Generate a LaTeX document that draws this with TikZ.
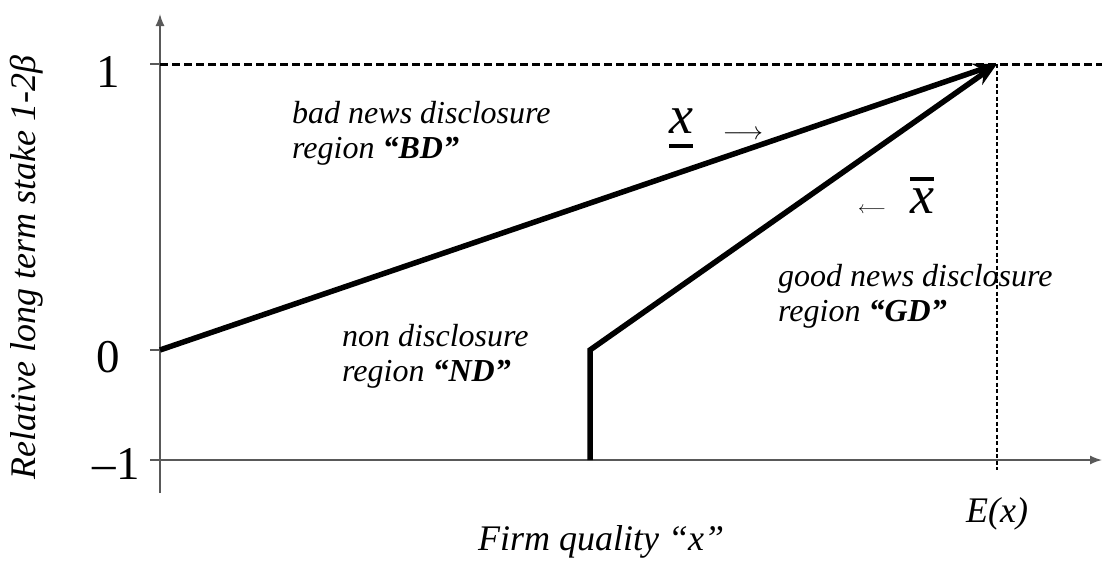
\documentclass[tikz,border=0pt]{standalone}
\usepackage{fontspec}
\setmainfont{Liberation Serif}[
  ItalicFont=Liberation Serif Italic,
  BoldFont=Liberation Serif Bold,
  BoldItalicFont=Liberation Serif Bold Italic]
\usetikzlibrary{arrows.meta}
\newcommand\xlow{\vtop{\hbox{\itshape x}\kern11pt\hrule height 4pt}}
\newcommand\xhigh{\vbox{\hrule height 4pt\kern7pt\hbox{\itshape x}}}
\begin{document}
\begin{tikzpicture}[x=1pt,y=-1pt,
  axis/.style={draw=black!65, line width=1.5pt},
  bound/.style={line width=5.5pt, line join=miter, -{Stealth[length=24pt,width=17pt]}},
  region/.style={inner sep=0, anchor=base west, align=left, font=\fontsize{32}{35}\selectfont\itshape},
  ticklab/.style={inner sep=0, font=\fontsize{47}{47}\selectfont},
  axlab/.style={inner sep=0, font=\fontsize{36}{36}\selectfont\itshape},
  mark x/.style={inner sep=0, anchor=base, font=\fontsize{54}{54}\selectfont}]
\useasboundingbox (0,0) rectangle (1102,582);
% axes
\coordinate (ybot) at (160,493);
\coordinate (ytop) at (160,14);
\coordinate (xleft) at (150,460);
\coordinate (xright) at (1102,460);
\draw[axis, -{Latex[length=12pt,width=9pt]}] (ybot) -- (ytop);
\draw[axis, -{Latex[length=12pt,width=9pt]}] (xleft) -- (xright);
\coordinate (t1) at (150,64);
\coordinate (t0) at (150,350);
\coordinate (y1) at (160,64);
\coordinate (y0) at (160,350);
\draw[axis] (t1) -- (y1);
\draw[axis] (t0) -- (y0);
% E(x) guides
\coordinate (Ex) at (997,64);
\coordinate (Exbot) at (997,470);
\coordinate (right1) at (1102,64);
\draw[line width=3pt, dash pattern=on 8pt off 4pt] (y1) -- (right1);
\draw[line width=2pt, dash pattern=on 4pt off 2.5pt] (Ex) -- (Exbot);
% boundaries
\coordinate (kink) at (590,350);
\coordinate (foot) at (590,460);
\draw[bound] (y0) -- (Ex);
\draw[bound] (foot) -- (kink) -- (Ex);
% tick labels
\node[ticklab] (l1) at (108,72) {1};
\node[ticklab] (l0) at (108,357) {0};
\node[ticklab] (lm1) at (116,464) {–1};
% axis labels
\node[axlab, rotate=90] (ylab) at (27,268) {Relative long term stake 1-2β};
\node[axlab, anchor=base] (xlab) at (601,550) {Firm quality “x”};
\node[axlab] (elab) at (997,514) {E(x)};
% regions
\node[region] (bd) at (292,158) {bad news disclosure\\region \textbf{“BD”}};
\node[region] (nd) at (342,381) {non disclosure\\region \textbf{“ND”}};
\node[region] (gd) at (778,321) {good news disclosure\\region \textbf{“GD”}};
% thresholds
\node[mark x] (xl) at (681,133) {\xlow};
\node[mark x, font=\fontsize{26}{26}\selectfont] (ra) at (743,139) {$\longrightarrow$};
\node[mark x] (xh) at (922,213) {\xhigh};
\node[mark x, font=\fontsize{19}{19}\selectfont] (la) at (872,213) {$\longleftarrow$};
\end{tikzpicture}
\end{document}
